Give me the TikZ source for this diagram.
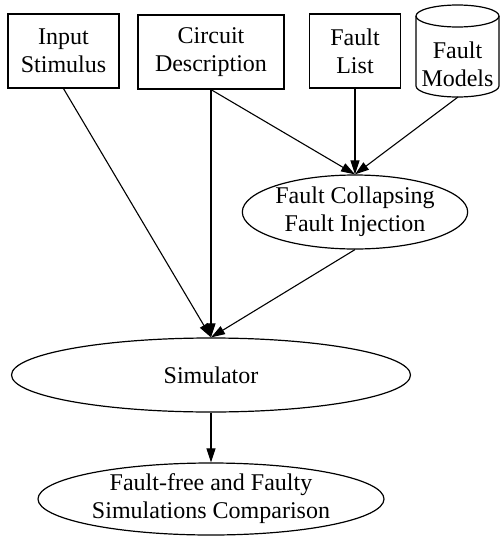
\documentclass[tikz,border=0pt]{standalone}
\usepackage{fontspec}
\setmainfont{Liberation Serif}
\usetikzlibrary{shapes.geometric,arrows.meta}
\begin{document}
\begin{tikzpicture}[x=0.5pt,y=-0.5pt,
  txt/.style={inner sep=0pt, align=center, font=\fontsize{12}{14}\selectfont},
  box/.style={txt, draw, line width=0.6pt},
  oval/.style={txt, ellipse, draw, line width=0.6pt},
  arr/.style={line width=0.55pt, -{Triangle[length=7pt,width=4.5pt]}},
]
\useasboundingbox (0,0) rectangle (500,536);
% boxes
\node[box, minimum width=55.5pt, minimum height=37pt] (in) at (63.5,51) {Input\\Stimulus};
\node[box, minimum width=73pt, minimum height=37pt] (cd) at (211,52) {Circuit\\Description};
\node[box, minimum width=45.5pt, minimum height=37pt] (fl) at (355,51) {Fault\\List};
% cylinder
\draw[line width=0.6pt] (457.5,16) ellipse [x radius=20.75pt, y radius=5.5pt];
\draw[line width=0.6pt] (416,16) -- (416,86) arc[start angle=180, end angle=360, x radius=20.75pt, y radius=5.5pt] -- (499,16);
\node[txt] (fm) at (457.5,64) {Fault\\Models};
\coordinate (fmb) at (458,97);
% ovals
\node[oval, minimum width=108pt, minimum height=37pt] (fc) at (355,212) {Fault Collapsing\\Fault Injection};
\node[oval, minimum width=199.5pt, minimum height=37pt] (sim) at (211,375) {Simulator};
\node[oval, minimum width=173pt, minimum height=36pt] (cmp) at (211,499) {Fault-free and Faulty\\Simulations Comparison};
% connectors
\draw[arr] (in.south) -- (sim.north);
\draw[arr] (cd.south) -- (sim.north);
\draw[arr] (cd.south) -- (fc.north);
\draw[arr] (fl.south) -- (fc.north);
\draw[arr] (fmb) -- (fc.north);
\draw[arr] (fc.south) -- (sim.north);
\draw[arr] (sim.south) -- (cmp.north);
\end{tikzpicture}
\end{document}
